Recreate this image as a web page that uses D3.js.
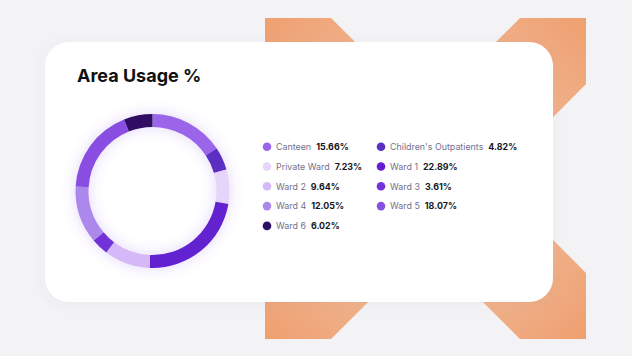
<!DOCTYPE html>
<html><head><meta charset="utf-8">
<script src="https://cdn.jsdelivr.net/npm/d3@7"></script>
<style>html,body{margin:0;padding:0;background:#f3f3f5;overflow:hidden}</style>
</head><body>
<script>
const categories = ["Canteen","Children's Outpatients","Private Ward","Ward 1","Ward 2","Ward 3","Ward 4","Ward 5","Ward 6"];
const values = [15.66,4.82,7.23,22.89,9.64,3.61,12.05,18.07,6.02];
const colors = ["#9b65ea","#5b2fc4","#e6d4fb","#6420d0","#d4b8f7","#7333d8","#ad88ec","#8a4ee2","#2d1063"];
const title = "Area Usage %";

const W = 632, H = 356;
const svg = d3.select("body").append("svg").attr("width", W).attr("height", H);
const defs = svg.append("defs");

svg.append("rect").attr("width", W).attr("height", H).attr("fill", "#f3f3f5");

// orange decorative shape
const rg = defs.append("radialGradient").attr("id","og").attr("gradientUnits","userSpaceOnUse")
  .attr("cx",425).attr("cy",178).attr("r",230);
rg.append("stop").attr("offset","0%").attr("stop-color","#f5d2bf");
rg.append("stop").attr("offset","55%").attr("stop-color","#f0b48f");
rg.append("stop").attr("offset","100%").attr("stop-color","#ef9f6f");
const sx0 = 265, sy0 = 18, S = 321, cut = 66, depth = 94;
const sx1 = sx0 + S, sy1 = sy0 + S, cx = sx0 + S/2, cy = sy0 + S/2;
const p = d3.path();
p.moveTo(sx0, sy0); p.lineTo(sx0+cut, sy0); p.lineTo(cx, sy0+depth); p.lineTo(sx1-cut, sy0);
p.lineTo(sx1, sy0); p.lineTo(sx1, sy0+cut); p.lineTo(sx1-depth, cy); p.lineTo(sx1, sy1-cut);
p.lineTo(sx1, sy1); p.lineTo(sx1-cut, sy1); p.lineTo(cx, sy1-depth); p.lineTo(sx0+cut, sy1);
p.lineTo(sx0, sy1); p.lineTo(sx0, sy1-cut); p.lineTo(sx0+depth, cy); p.lineTo(sx0, sy0+cut);
p.closePath();
svg.append("path").attr("d", p.toString()).attr("fill","url(#og)");

// card
const cs = defs.append("filter").attr("id","cs").attr("x","-10%").attr("y","-10%").attr("width","120%").attr("height","130%");
cs.append("feDropShadow").attr("dx",0).attr("dy",2).attr("stdDeviation",6).attr("flood-color","#6a6a90").attr("flood-opacity",0.06);
svg.append("rect").attr("x",45).attr("y",42).attr("width",508).attr("height",260).attr("rx",24)
  .attr("fill","#ffffff").attr("filter","url(#cs)");

svg.append("text").attr("x",77).attr("y",82).text(title)
  .attr("font-family","Inter, 'Open Sans', sans-serif").attr("font-weight",700).attr("font-size",18)
  .attr("fill","#111111").attr("letter-spacing",0);

// donut
const dcx = 152.5, dcy = 191, rOut = 77, rIn = 64;
const glow = defs.append("filter").attr("id","glow").attr("x","-40%").attr("y","-40%").attr("width","180%").attr("height","180%");
glow.append("feGaussianBlur").attr("in","SourceAlpha").attr("stdDeviation",7).attr("result","b");
glow.append("feFlood").attr("flood-color","#8c5ae6").attr("flood-opacity",0.25);
glow.append("feComposite").attr("in2","b").attr("operator","in").attr("result","s");
const fm = glow.append("feMerge");
fm.append("feMergeNode").attr("in","s");
fm.append("feMergeNode").attr("in","SourceGraphic");

const data = categories.map((c,i)=>({c, v: values[i], col: colors[i]}));
const pie = d3.pie().value(d=>d.v).sort(null);
const arc = d3.arc().innerRadius(rIn).outerRadius(rOut);
const g = svg.append("g").attr("transform",`translate(${dcx},${dcy})`).attr("filter","url(#glow)");
g.selectAll("path").data(pie(data)).join("path").attr("d", arc).attr("fill", d=>d.data.col);

// legend
const colX = [267, 381], rowY0 = 146.7, rowH = 19.8;
const lg = svg.append("g").attr("font-family","Inter, 'Open Sans', sans-serif").attr("font-size",8.9);
data.forEach((d,i)=>{
  const col = i % 2, row = Math.floor(i/2);
  const x = colX[col], y = rowY0 + row*rowH;
  lg.append("circle").attr("cx",x).attr("cy",y).attr("r",4.3).attr("fill",d.col);
  const t = lg.append("text").attr("x",x+9).attr("y",y+3.3);
  t.append("tspan").text(d.c).attr("fill","#72708f");
  t.append("tspan").text(d3.format(".2f")(d.v)+"%").attr("dx",5).attr("font-weight",700).attr("fill","#16161f");
});
</script>
</body></html>
